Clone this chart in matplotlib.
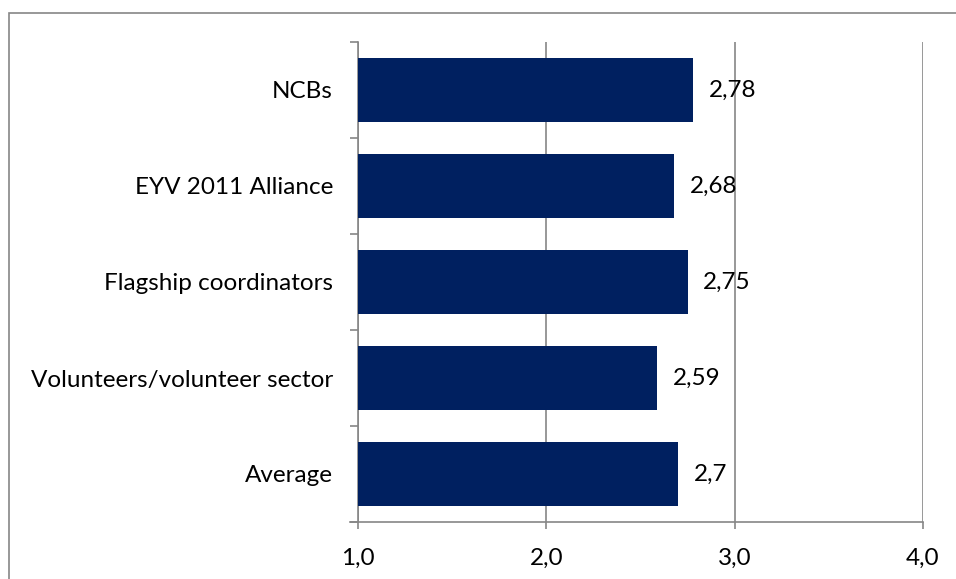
import matplotlib.pyplot as plt
from matplotlib.patches import Rectangle

categories = ["NCBs", "EYV 2011 Alliance", "Flagship coordinators",
              "Volunteers/volunteer sector", "Average"]
scores = [2.78, 2.68, 2.75, 2.59, 2.7]
value_labels = ["2,78", "2,68", "2,75", "2,59", "2,7"]
x_ticks = [1.0, 2.0, 3.0, 4.0]
x_tick_labels = ["1,0", "2,0", "3,0", "4,0"]

bar_color = "#002060"
grid_color = "#868686"

plt.rcParams['font.family'] = ['Lato', 'DejaVu Sans']
plt.rcParams['font.size'] = 17.5

fig = plt.figure(figsize=(9.56, 5.79), dpi=100)
ax = fig.add_axes([358 / 956, 1 - 522 / 579, (923 - 358) / 956, (522 - 42) / 579])

# outer chart frame
fig.patches.append(Rectangle((9 / 956, -0.05), 1.0, 1 - 13 / 579 + 0.05,
                             transform=fig.transFigure, fill=False,
                             edgecolor=grid_color, linewidth=1.2))

ypos = list(range(len(categories)))
base = 1.0
ax.barh(ypos, [s - base for s in scores], left=base, height=0.66,
        color=bar_color, zorder=3)

for y, s, lbl in zip(ypos, scores, value_labels):
    ax.annotate(lbl, xy=(s, y), xytext=(11, 0), textcoords="offset points",
                va="center", ha="left", zorder=4)

ax.set_xlim(1.0, 4.0)
ax.set_ylim(len(categories) - 0.5, -0.5)
ax.set_xticks(x_ticks)
ax.set_xticklabels(x_tick_labels)

# category labels sit between the boundary ticks
ax.set_yticks([i - 0.5 for i in range(len(categories) + 1)])
ax.set_yticklabels([])
ax.set_yticks(ypos, minor=True)
ax.set_yticklabels(categories, minor=True)
ax.tick_params(axis="y", which="minor", length=0, pad=18)
ax.tick_params(axis="y", which="major", length=5.8, width=1.2, color=grid_color)
ax.tick_params(axis="x", length=5.0, width=1.2, color=grid_color, pad=13.5)

ax.xaxis.grid(True, color=grid_color, linewidth=1.2, zorder=0)
for side in ["top", "right"]:
    ax.spines[side].set_visible(False)
for side in ["left", "bottom"]:
    ax.spines[side].set_color(grid_color)
    ax.spines[side].set_linewidth(1.2)
ax.spines["bottom"].set_bounds(1.0 - 8 / 188.3, 4.0)

fig.savefig("out.png", dpi=100)
